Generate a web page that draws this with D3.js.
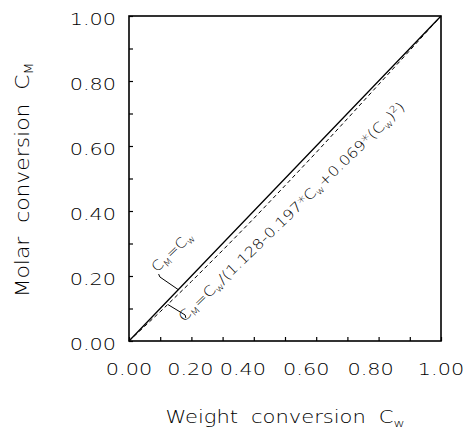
<!DOCTYPE html>
<html>
<head>
<meta charset="utf-8">
<script src="https://cdn.jsdelivr.net/npm/d3@7/dist/d3.min.js"></script>
<style>
    body { margin: 0; background: #fff; }
    text { font-family: "DejaVu Sans ExtraLight", "DejaVu Sans", sans-serif; font-weight: 200; fill: #000; }
</style>
</head>
<body>
<svg id="chart" width="465" height="432"></svg>
<script>
// values
const weightConv = [0, 0.1, 0.2, 0.3, 0.4, 0.5, 0.6, 0.7, 0.8, 0.9, 1.0];
const molarSame = [0, 0.1, 0.2, 0.3, 0.4, 0.5, 0.6, 0.7, 0.8, 0.9, 1.0];
const molarFit = [0, 0.09, 0.183, 0.279, 0.377, 0.478, 0.58, 0.684, 0.789, 0.894, 1.0];
const majorTicks = [0, 0.2, 0.4, 0.6, 0.8, 1.0];
const tickLabels = ["0.00", "0.20", "0.40", "0.60", "0.80", "1.00"];
const minorTicks = [0, 0.1, 0.2, 0.3, 0.4, 0.5, 0.6, 0.7, 0.8, 0.9, 1.0];

// the scanned labels are not spaced quite evenly
const xLabelNudge = [0, -1, -11, -10, -8, 0];

const margin = { top: 16, left: 129 };
const width = 312, height = 325;

const svg = d3.select("#chart");
const g = svg.append("g").attr("transform", `translate(${margin.left},${margin.top})`);

const x = d3.scaleLinear().domain([0, 1]).range([0, width]);
const y = d3.scaleLinear().domain([0, 1]).range([height, 0]);

// ticks pointing inwards
g.append("g")
    .attr("transform", `translate(0,${height})`)
    .call(d3.axisBottom(x).tickValues(minorTicks).tickSize(-4).tickFormat(""))
    .call(a => a.select(".domain").remove());
g.append("g")
    .call(d3.axisLeft(y).tickValues(minorTicks).tickSize(-4).tickFormat(""))
    .call(a => a.select(".domain").remove());
g.selectAll(".tick line").attr("stroke", "#000").attr("stroke-width", 1.2);

g.append("rect")
    .attr("width", width).attr("height", height)
    .attr("fill", "none").attr("stroke", "#000").attr("stroke-width", 1.6);

// wide, thin tick labels
g.selectAll(".xlab")
    .data(majorTicks)
    .enter()
    .append("text")
    .attr("class", "xlab")
    .attr("text-anchor", "middle")
    .attr("font-size", 16)
    .attr("transform", (d, i) => `translate(${x(d) + xLabelNudge[i]},${height + 34}) scale(1.3,1)`)
    .text((d, i) => tickLabels[i]);

g.selectAll(".ylab")
    .data(majorTicks)
    .enter()
    .append("text")
    .attr("class", "ylab")
    .attr("text-anchor", "end")
    .attr("font-size", 16)
    .attr("transform", d => `translate(-13,${y(d) + 9}) scale(1.3,1)`)
    .text((d, i) => tickLabels[i]);

// curves
const line = d3.line()
    .x((d, i) => x(weightConv[i]))
    .y(d => y(d));

g.append("path")
    .attr("d", line(molarSame))
    .attr("fill", "none").attr("stroke", "#000").attr("stroke-width", 1.3);

g.append("path")
    .attr("d", line(molarFit))
    .attr("fill", "none").attr("stroke", "#000").attr("stroke-width", 1)
    .attr("stroke-dasharray", "4,3");

// axis titles
const xt = svg.append("text")
    .attr("text-anchor", "middle")
    .attr("font-size", 17)
    .attr("word-spacing", 5)
    .attr("transform", "translate(285,423) scale(1.24,1)");
xt.append("tspan").text("Weight conversion C");
xt.append("tspan").attr("font-size", 11).attr("dy", 4).text("w");

const yt = svg.append("text")
    .attr("text-anchor", "middle")
    .attr("font-size", 19)
    .attr("word-spacing", 6)
    .attr("transform", "translate(29,180) rotate(-90) scale(1.15,1)");
yt.append("tspan").text("Molar conversion C");
yt.append("tspan").attr("font-size", 12).attr("dy", 4).text("M");

// annotations with leader lines
function subLabel(sel, parts) {
    parts.forEach(p => {
        const t = sel.append("tspan").text(p.t);
        if (p.sub) t.attr("font-size", 9).attr("dy", 3);
        if (p.sup) t.attr("font-size", 9).attr("dy", -5);
        if (p.back) t.attr("dy", p.back);
    });
}

const angle = -44;

g.append("path")
    .attr("d", d3.line()([[x(0.095), y(0.206)], [x(0.099), y(0.197)], [x(0.158), y(0.158)]]))
    .attr("fill", "none").attr("stroke", "#000").attr("stroke-width", 1);

const lab1 = g.append("text")
    .attr("font-size", 14)
    .attr("transform", `translate(${x(0.09)},${y(0.21)}) rotate(${angle}) scale(1.1,1)`);
subLabel(lab1, [{ t: "C" }, { t: "M", sub: true }, { t: "=C", back: -3 }, { t: "w", sub: true }]);

g.append("path")
    .attr("d", d3.line()([[x(0.125), y(0.112)], [x(0.18), y(0.08)], [x(0.182), y(0.071)]]))
    .attr("fill", "none").attr("stroke", "#000").attr("stroke-width", 1);

const lab2 = g.append("text")
    .attr("font-size", 14)
    .attr("transform", `translate(${x(0.176)},${y(0.057)}) rotate(${angle}) scale(1.17,1)`);
subLabel(lab2, [
    { t: "C" }, { t: "M", sub: true }, { t: "=C", back: -3 }, { t: "w", sub: true },
    { t: "/(1.128-0.197*C", back: -3 }, { t: "w", sub: true },
    { t: "+0.069*(C", back: -3 }, { t: "w", sub: true },
    { t: ")", back: -3 }, { t: "2", sup: true }, { t: ")", back: 5 }
]);
</script>
</body>
</html>
